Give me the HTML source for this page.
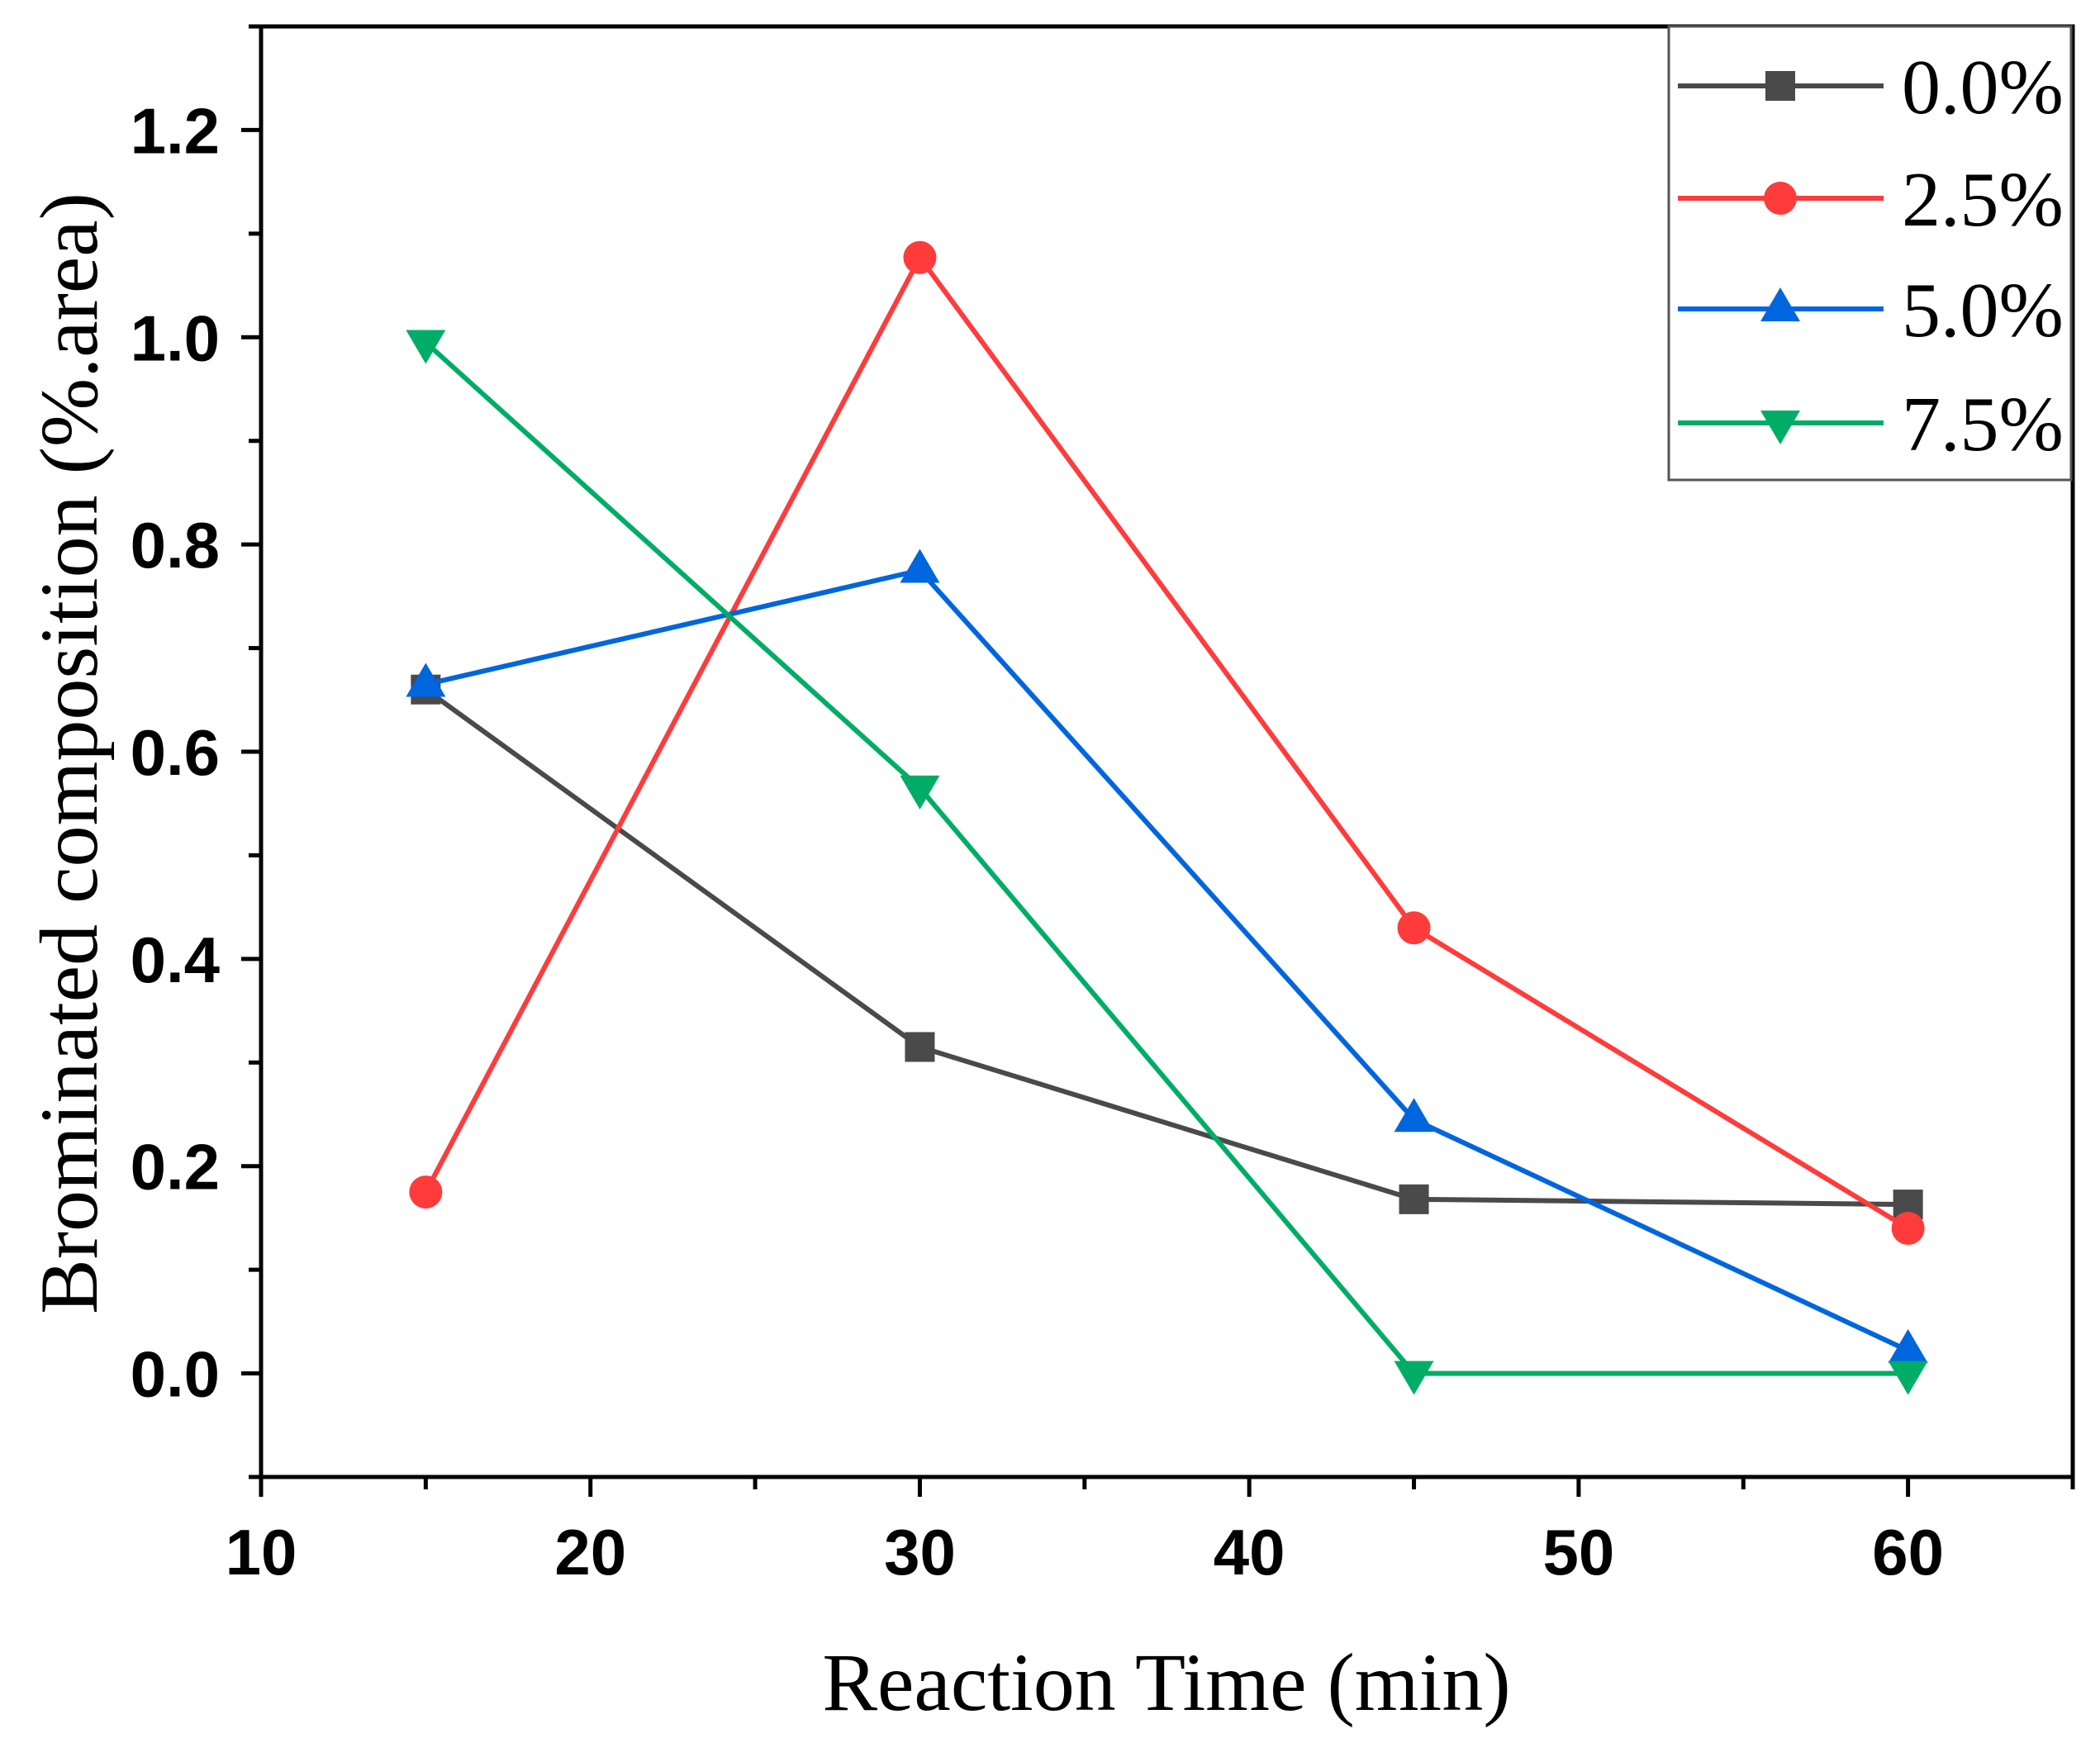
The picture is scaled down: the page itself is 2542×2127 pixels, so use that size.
<!DOCTYPE html>
<html><head><meta charset="utf-8">
<style>
html,body{margin:0;padding:0;background:#fff;}
svg{display:block;}
</style></head>
<body>
<svg id="chart" width="2542" height="2127" viewBox="0 0 2542 2127" xmlns="http://www.w3.org/2000/svg">
<rect width="2542" height="2127" fill="#fff"/>
<g id="axes"></g>
<g id="series"></g>
<g id="legend"></g>
<text x="1412" y="2070" text-anchor="middle" font-family="Liberation Serif, serif" font-size="100">Reaction Time (min)</text>
<text transform="translate(117,912) rotate(-90)" text-anchor="middle" font-family="Liberation Serif, serif" font-size="100">Brominated composition (%.area)</text>
</svg>
<script>
const categories = [15, 30, 45, 60];
const seriesNames = ["0.0%", "2.5%", "5.0%", "7.5%"];
const s0 = [0.66, 0.315, 0.168, 0.163];
const s25 = [0.175, 1.077, 0.43, 0.14];
const s50 = [0.665, 0.775, 0.245, 0.022];
const s75 = [0.995, 0.565, 0.0, 0.0];
const xTicks = [10, 20, 30, 40, 50, 60];
const yTicks = [0.0, 0.2, 0.4, 0.6, 0.8, 1.0, 1.2];

const NS = "http://www.w3.org/2000/svg";
const L = 316, R = 2509, T = 32, B = 1788;
const xMin = 10, xMax = 65, yMin = -0.1, yMax = 1.3;
const xs = v => L + (v - xMin) / (xMax - xMin) * (R - L);
const ys = v => B - (v - yMin) / (yMax - yMin) * (B - T);

function mk(tag, attrs, parent) {
  const e = document.createElementNS(NS, tag);
  for (const k in attrs) e.setAttribute(k, attrs[k]);
  parent.appendChild(e);
  return e;
}
const axes = document.getElementById('axes');
const frame = mk('rect', {x: L, y: T, width: R - L, height: B - T, fill: 'none', stroke: '#000', 'stroke-width': 5}, axes);



for (let v = 10; v <= 65; v += 5) {
  const major = v % 10 === 0;
  const t = mk('line', {x1: xs(v), x2: xs(v), y1: B, y2: B + (major ? 24 : 15), stroke: '#000', 'stroke-width': 5}, axes);
  
  
}
xTicks.forEach(v => {
  const t = mk('text', {x: xs(v), y: 1906, 'text-anchor': 'middle', 'font-family': 'Liberation Sans, sans-serif', 'font-weight': 'bold', 'font-size': 78}, axes);
  t.textContent = String(v);
  
  
});
for (let i = -1; i <= 13; i++) {
  const v = i / 10;
  const major = i % 2 === 0;
  const t = mk('line', {x1: L, x2: L - (major ? 24 : 15), y1: ys(v), y2: ys(v), stroke: '#000', 'stroke-width': 5}, axes);
  
  
}
yTicks.forEach(v => {
  const t = mk('text', {x: 266, y: ys(v) + 28, 'text-anchor': 'end', 'font-family': 'Liberation Sans, sans-serif', 'font-weight': 'bold', 'font-size': 78}, axes);
  t.textContent = v.toFixed(1);
  
  
});

const colors = ["#4a4a4a", "#ff3b3b", "#0066dd", "#00ad66"];
const shapes = ["square", "circle", "up", "down"];
const data = [s0, s25, s50, s75];
function marker(g, shape, cx, cy, color) {
  let m;
  if (shape === 'square') m = mk('rect', {x: cx - 18, y: cy - 18, width: 36, height: 36, fill: color}, g);
  else if (shape === 'circle') m = mk('circle', {cx: cx, cy: cy, r: 20, fill: color}, g);
  else if (shape === 'up') m = mk('polygon', {points: `${cx},${cy - 26} ${cx - 24},${cy + 15} ${cx + 24},${cy + 15}`, fill: color}, g);
  else m = mk('polygon', {points: `${cx},${cy + 26} ${cx - 24},${cy - 15} ${cx + 24},${cy - 15}`, fill: color}, g);
  return m;
}
const sg = document.getElementById('series');
data.forEach((arr, si) => {
  const g = mk('g', {}, sg);
  
  
  const pts = arr.map((v, i) => xs(categories[i]) + ',' + ys(v)).join(' ');
  const pl = mk('polyline', {points: pts, fill: 'none', stroke: colors[si], 'stroke-width': 6}, g);
  
  
  arr.forEach((v, i) => {
    const m = marker(g, shapes[si], xs(categories[i]), ys(v), colors[si]);
    
    
  });
});

const lg = document.getElementById('legend');


mk('rect', {x: 2020, y: 32, width: 487, height: 549, fill: '#fff', stroke: '#555', 'stroke-width': 3}, lg);
const ly = [104, 240, 374, 512];
seriesNames.forEach((n, i) => {
  const g = mk('g', {}, lg);
  
  
  mk('line', {x1: 2031, x2: 2280, y1: ly[i], y2: ly[i], stroke: colors[i], 'stroke-width': 6}, g);
  marker(g, shapes[i], 2155, ly[i], colors[i]);
  const t = mk('text', {x: 2302, y: ly[i] + 33, 'font-family': 'Liberation Serif, serif', 'font-size': 94}, g);
  t.textContent = n;
});
</script>
</body></html>
